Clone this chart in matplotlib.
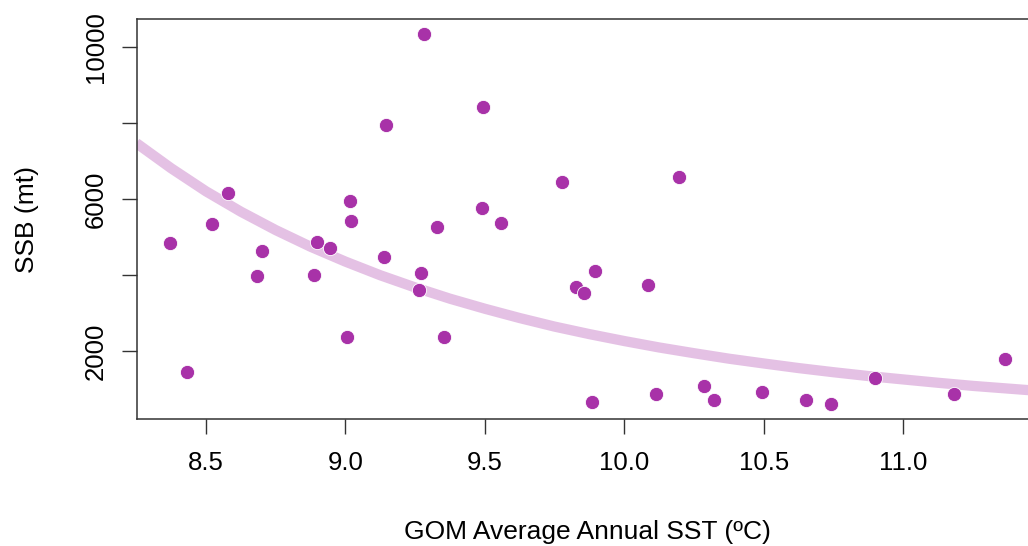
import numpy as np
import matplotlib.pyplot as plt

plt.rcParams['font.family'] = ['Liberation Sans', 'DejaVu Sans']

# GOM average annual SST (deg C) and SSB (mt)
sst = [8.371, 8.432, 8.522, 8.580, 8.683, 8.701, 8.886, 8.898, 8.946, 9.007,
       9.015, 9.021, 9.137, 9.145, 9.270, 9.265, 9.282, 9.327, 9.353, 9.492,
       9.490, 9.558, 9.776, 9.828, 9.855, 9.885, 9.896, 10.085, 10.112, 10.196,
       10.287, 10.321, 10.495, 10.651, 10.740, 10.900, 11.183, 11.366]
ssb = [4856, 1456, 5348, 6171, 3988, 4646, 4007, 4867, 4709, 2368,
       5953, 5435, 4488, 7944, 4059, 3620, 10345, 5269, 2376, 8425,
       5777, 5382, 6460, 3683, 3525, 674, 4120, 3736, 885, 6584,
       1087, 711, 937, 711, 606, 1298, 885, 1797]

# fitted curve at regular SST steps
curve_sst = [8.25, 8.375, 8.5, 8.625, 8.75, 8.875, 9.0, 9.125, 9.25, 9.375,
             9.5, 9.625, 9.75, 9.875, 10.0, 10.125, 10.25, 10.375, 10.5,
             10.625, 10.75, 10.875, 11.0, 11.125, 11.25, 11.375, 11.5]
curve_ssb = [7480, 6817, 6210, 5674, 5190, 4752, 4360, 4001, 3680, 3384,
             3120, 2875, 2650, 2452, 2270, 2101, 1950, 1806, 1680,
             1559, 1450, 1349, 1260, 1172, 1090, 1020, 950]

y_ticks = [2000, 4000, 6000, 8000, 10000]
y_ticklabels = ['2000', '', '6000', '', '10000']
x_ticks = [8.5, 9.0, 9.5, 10.0, 10.5, 11.0]

purple = '#A832A8'

fig = plt.figure(figsize=(10.28, 5.46), dpi=100)
ax = fig.add_axes([0.133, 0.2324, 0.8775, 0.7321])

ax.plot(curve_sst, curve_ssb, color=purple, alpha=0.3, lw=7.4,
        solid_capstyle='butt', solid_joinstyle='round', zorder=1)
ax.scatter(sst, ssb, s=105, color=purple, edgecolors='white', linewidths=0.6,
           zorder=2)

ax.set_xlim(8.2515, 11.486)
ax.set_ylim(216, 10735)

ax.set_xticks(x_ticks)
ax.set_xticklabels(['%.1f' % t for t in x_ticks])
ax.set_yticks(y_ticks)
ax.set_yticklabels(y_ticklabels, rotation=90, va='center')

ax.tick_params(axis='both', direction='out', length=11, width=1.0,
               color='#333333', labelsize=18.5)
ax.tick_params(axis='x', pad=12)
ax.tick_params(axis='y', pad=10)

for side in ['left', 'bottom', 'top']:
    ax.spines[side].set_linewidth(1.1)
    ax.spines[side].set_color('#333333')
ax.spines['right'].set_visible(False)

ax.set_xlabel('GOM Average Annual SST (\u00baC)', fontsize=19, va='center')
ax.xaxis.set_label_coords(0.5, -0.2825)
ax.set_ylabel('SSB (mt)', fontsize=19, va='center')
ax.yaxis.set_label_coords(-0.1215, 0.5)

fig.savefig('out.png', dpi=100)
